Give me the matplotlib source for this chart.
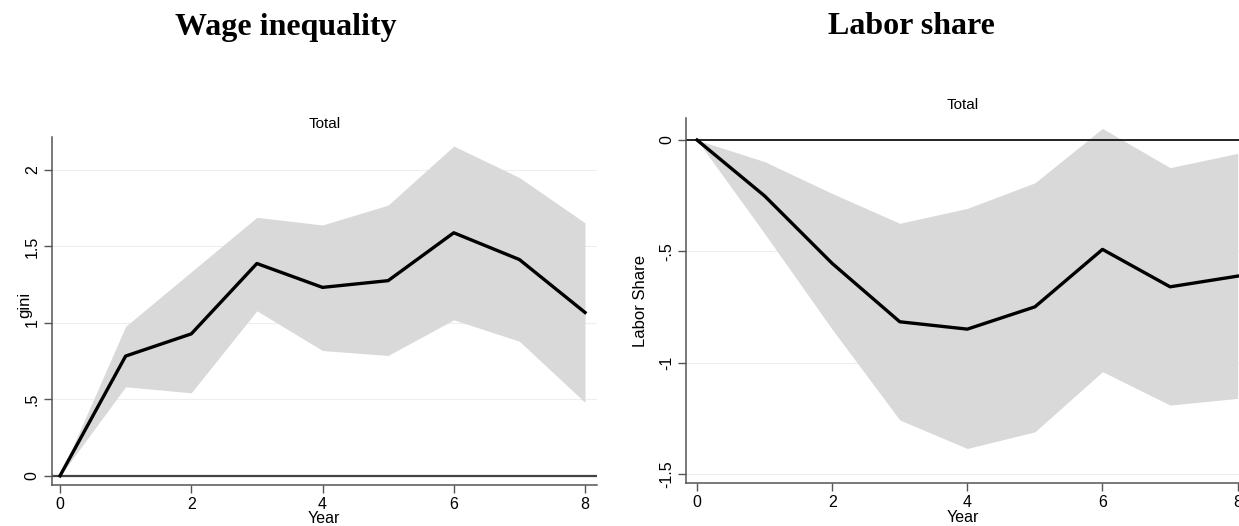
import numpy as np
import matplotlib
matplotlib.use("Agg")
import matplotlib.pyplot as plt

#---------------------------------
# data
years = [0, 1, 2, 3, 4, 5, 6, 7, 8]

gini_point = [0, 0.783, 0.928, 1.388, 1.232, 1.276, 1.589, 1.414, 1.068]
gini_upper = [0, 0.977, 1.334, 1.690, 1.640, 1.770, 2.156, 1.950, 1.654]
gini_lower = [0, 0.582, 0.543, 1.079, 0.819, 0.787, 1.020, 0.880, 0.480]

ls_point = [0, -0.251, -0.554, -0.816, -0.849, -0.749, -0.491, -0.659, -0.611]
ls_upper = [0, -0.097, -0.240, -0.374, -0.307, -0.192, 0.052, -0.124, -0.060]
ls_lower = [0, -0.420, -0.850, -1.257, -1.385, -1.310, -1.040, -1.190, -1.160]

gini_ticks = [0, 0.5, 1, 1.5, 2]
gini_ticklabels = ["0", ".5", "1", "1.5", "2"]
ls_ticks = [-1.5, -1, -0.5, 0]
ls_ticklabels = ["-1.5", "-1", "-.5", "0"]
x_ticks = [0, 2, 4, 6, 8]

panel_titles = ["Wage inequality", "Labor share"]

#---------------------------------
plt.rcParams['font.family'] = ['Liberation Sans', 'DejaVu Sans']

band_color = "#d9d9d9"
axis_color = "#555555"
fig = plt.figure(figsize=[12.39, 5.26], dpi=100)


def draw_panel(ax, point, upper, lower, yticks, yticklabels, ylabel,
               zero_color, zero_width, xlabel_pad):
    ax.fill_between(years, lower, upper, color=band_color, linewidth=0, zorder=1)
    ax.axhline(0, color=zero_color, linewidth=zero_width, zorder=2)
    ax.plot(years, point, color="black", linewidth=2.4, zorder=3)
    ax.set_yticks(yticks)
    ax.set_yticklabels(yticklabels, rotation=90, va="center")
    ax.set_xticks(x_ticks)
    ax.grid(axis="y", color="#eeeeee", linewidth=0.8, zorder=0)
    ax.set_axisbelow(True)
    for side in ["top", "right"]:
        ax.spines[side].set_visible(False)
    for side in ["left", "bottom"]:
        ax.spines[side].set_color(axis_color)
        ax.spines[side].set_linewidth(1.1)
    ax.tick_params(axis="both", labelsize=11.5, length=6, color=axis_color,
                   width=1.0, pad=2.5)
    ax.set_xlabel("Year", fontsize=11.5, labelpad=xlabel_pad)
    ax.set_ylabel(ylabel, fontsize=12)
    ax.set_title("Total", fontsize=11, pad=6.5)


# left panel: gini
ax1 = fig.add_axes([0.0417, 0.0785, 0.440, 0.661])
draw_panel(ax1, gini_point, gini_upper, gini_lower,
           gini_ticks, gini_ticklabels, "gini", "#444444", 1.6, -0.5)
ax1.set_xlim(-0.127, 8.18)
ax1.set_ylim(-0.058, 2.215)
ax1.yaxis.set_label_coords(-0.036, 0.518)

# right panel: labor share
ax2 = fig.add_axes([0.5537, 0.0817, 0.4463, 0.694])
draw_panel(ax2, ls_point, ls_upper, ls_lower,
           ls_ticks, ls_ticklabels, "Labor Share", "black", 1.2, 0)
ax2.set_xlim(-0.163, 8.02)
ax2.set_ylim(-1.54, 0.099)
ax2.yaxis.set_label_coords(-0.069, 0.5)

fig.text(0.231, 0.948, panel_titles[0], fontsize=23, fontweight="bold",
         family="Liberation Serif", ha="center", va="center")
fig.text(0.736, 0.950, panel_titles[1], fontsize=23, fontweight="bold",
         family="Liberation Serif", ha="center", va="center")

fig.savefig("out.png", dpi=100)
plt.close()
